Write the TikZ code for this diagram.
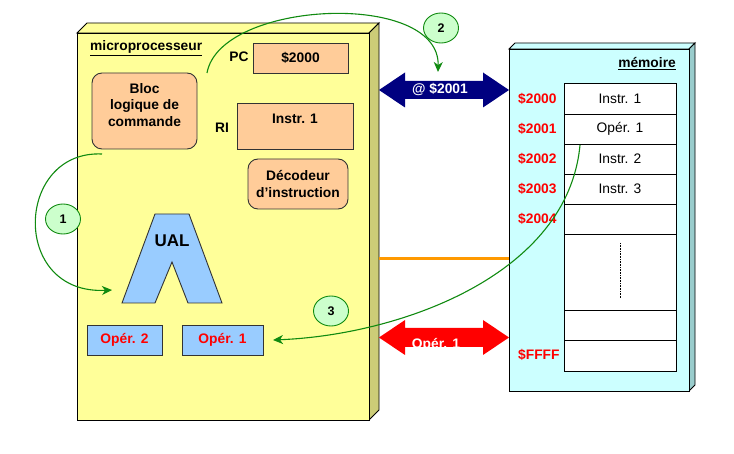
\documentclass[tikz,border=0pt]{standalone}
\usepackage{fontspec}
\setmainfont{Liberation Sans}
\usetikzlibrary{shapes.geometric,arrows.meta}
\definecolor{cpuyel}{HTML}{FFFF99}
\definecolor{cpuside}{HTML}{CCCC77}
\definecolor{peach}{HTML}{FFCC99}
\definecolor{lblue}{HTML}{99CCFF}
\definecolor{memcyan}{HTML}{CCFFFF}
\definecolor{memside}{HTML}{99CCCC}
\definecolor{navyb}{HTML}{000080}
\definecolor{orangel}{HTML}{FF9900}
\definecolor{grn}{HTML}{108A10}
\definecolor{lgrn}{HTML}{CCFFCC}
\definecolor{redt}{HTML}{FF0000}
\tikzset{
  txt/.style={font=\fontsize{13.8}{16.5}\selectfont\bfseries, inner sep=0pt},
  regbox/.style={draw=black!80, line width=0.9pt, fill=peach},
  opbox/.style={draw=black!80, line width=0.9pt, fill=lblue},
  cell/.style={draw=black, line width=0.9pt, fill=white},
  redlbl/.style={txt, text=redt, anchor=west},
  celltxt/.style={font=\fontsize{13.8}{16}\selectfont, inner sep=0pt},
  stepnum/.style={ellipse, draw=grn, line width=0.9pt, fill=lgrn, minimum width=35pt, minimum height=30pt, inner sep=0pt, font=\fontsize{12.5}{14}\selectfont\bfseries},
  flow/.style={draw=grn, line width=1.1pt, -{Stealth[length=10pt,width=9pt,inset=3pt]}},
}
\begin{document}
\begin{tikzpicture}[x=1pt,y=-1pt]
\useasboundingbox (0,0) rectangle (734,454);
% microprocessor 3D box
\fill[cpuyel,draw=black,line width=0.9pt] (77,33) -- (87,23) -- (379,23) -- (369,33) -- cycle;
\fill[cpuside,draw=black,line width=0.9pt] (369,33) -- (379,23) -- (379,410) -- (369,420) -- cycle;
\fill[cpuyel,draw=black,line width=0.9pt] (77,33) rectangle (369,420);
% memory 3D box
\fill[memcyan,draw=black,line width=0.9pt] (509,49) -- (515,43) -- (695,43) -- (689,49) -- cycle;
\fill[memside,draw=black,line width=0.9pt] (689,49) -- (695,43) -- (695,385) -- (689,391) -- cycle;
\fill[memcyan,draw=black,line width=0.9pt] (509,49) rectangle (689,391);

\node[txt, anchor=west] (cpu) at (90,48) {\underline{microprocesseur}};
\node[txt, anchor=east] (mem) at (676,64) {\underline{mémoire}};

% registers
\node[txt] (pclbl) at (239,57) {PC};
\draw[regbox] (253,43) rectangle (348,73);
\node[txt] (pc) at (300.5,58) {\$2000};
\draw[regbox, rounded corners=10pt] (92,73) rectangle (197,149);
\node[txt, align=center] (bloc) at (144.5,105) {Bloc\\logique de\\commande};
\node[txt] (rilbl) at (222,128) {RI};
\draw[regbox] (237,103) rectangle (353,149);
\node[txt] (ri) at (295,119) {Instr. 1};
\draw[regbox, rounded corners=10pt] (248,159) rectangle (348,209);
\node[txt, align=center] (dec) at (298,184) {Décodeur\\d’instruction};

% UAL
\draw[fill=lblue, draw=black!80, line width=0.9pt] (155,214) -- (189,214) -- (222,303) -- (188,303) -- (172,262) -- (155,303) -- (122,303) -- cycle;
\node[txt, font=\fontsize{17}{19}\selectfont\bfseries] (ual) at (172,241) {UAL};
\draw[opbox] (87,325) rectangle (162,355);
\node[txt, text=redt] (op2) at (124.5,340) {Opér. 2};
\draw[opbox] (182,325) rectangle (263,355);
\node[txt, text=redt] (op1) at (222.5,340) {Opér. 1};
\coordinate (op1e) at (273,340);

% memory table
\draw[cell] (564,83) rectangle (676,114);
\draw[cell] (564,114) rectangle (676,144);
\draw[cell] (564,144) rectangle (676,174);
\draw[cell] (564,174) rectangle (676,204);
\draw[cell] (564,204) rectangle (676,234);
\draw[cell] (564,234) rectangle (676,310);
\draw[cell] (564,310) rectangle (676,340);
\draw[cell] (564,340) rectangle (676,371);
\draw[densely dotted, line width=0.6pt] (620,243) -- (620,298);
\node[celltxt] (m0) at (620,99) {Instr. 1};
\node[celltxt] (m1) at (620,129) {Opér. 1};
\node[celltxt] (m2) at (620,159) {Instr. 2};
\node[celltxt] (m3) at (620,189) {Instr. 3};
\node[redlbl] (a0) at (518,99) {\$2000};
\node[redlbl] (a1) at (518,129) {\$2001};
\node[redlbl] (a2) at (518,159) {\$2002};
\node[redlbl] (a3) at (518,189) {\$2003};
\node[redlbl] (a4) at (518,219) {\$2004};
\node[redlbl] (af) at (518,355) {\$FFFF};

% buses
\fill[navyb] (379,90) -- (405,72.5) -- (405,81) -- (483,81) -- (483,72.5) -- (509,90) -- (483,107.5) -- (483,99) -- (405,99) -- (405,107.5) -- cycle;
\node[txt, text=white, anchor=base] (addr) at (440,94) {@ \$2001};
\draw[orangel, line width=3pt] (379,259) -- (509,259);
\fill[redt] (379,337.5) -- (405,320) -- (405,328) -- (483,328) -- (483,320) -- (509,337.5) -- (483,355) -- (483,347) -- (405,347) -- (405,355) -- cycle;
\begin{scope}
\clip (379,328) rectangle (509,347);
\node[txt, text=white, anchor=base] (data) at (436,348.5) {Opér. 1};
\end{scope}

% flow arrows
\coordinate (s1) at (102,154);
\coordinate (e1) at (112,290);
\coordinate (s2) at (207,73);
\coordinate (e2) at (438,72);
\coordinate (s3) at (580,145);
\draw[flow] (s1) .. controls (15,150) and (10,295) .. (e1);
\draw[flow] (s2) .. controls (220,0) and (440,-10) .. (e2);
\draw[flow] (s3) .. controls (568,275) and (400,335) .. (op1e);
\node[stepnum] (n1) at (63,219) {1};
\node[stepnum] (n2) at (441,28) {2};
\node[stepnum] (n3) at (331,311) {3};
\end{tikzpicture}
\end{document}
